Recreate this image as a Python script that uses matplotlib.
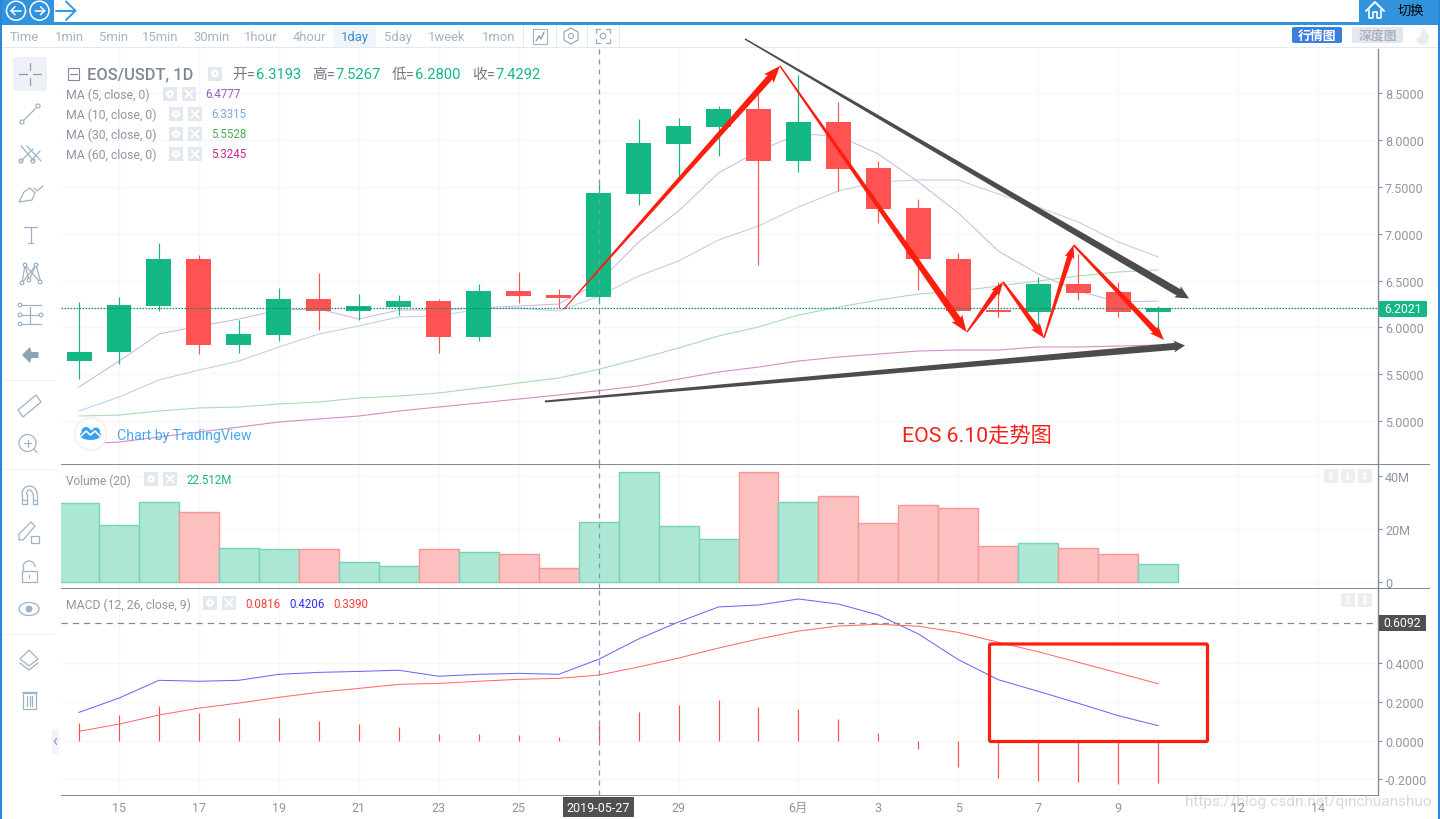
"""
EOS/USDT daily chart with volume and MACD panes, in the trading terminal frame
"""
import numpy as np
import matplotlib
matplotlib.use("Agg")
import matplotlib.pyplot as plt
from matplotlib.patches import Rectangle, FancyBboxPatch, Circle, Ellipse, Polygon

plt.rcParams['font.family'] = ['Roboto', 'Noto Sans CJK SC', 'DejaVu Sans']

W = 1440; H = 820

# price data, one row per day from May 14 to June 10
opens  = [5.64,5.74,6.23,6.73,5.81,5.92,6.30,6.175,6.217,6.28,5.90,6.39,6.345,6.3193,
          7.423,7.956,8.137,8.329,7.775,8.191,7.70,7.27,6.729,6.185,6.165,6.463,6.378,6.164]
highs  = [6.27,6.32,6.90,6.77,6.08,6.42,6.58,6.356,6.345,6.303,6.463,6.591,6.409,7.5267,
          8.223,8.233,8.361,8.489,8.692,8.404,7.775,7.369,6.793,6.484,6.537,6.783,6.484,6.228]
lows   = [5.45,5.61,6.18,5.72,5.73,5.86,5.97,6.08,6.132,5.727,5.855,6.26,6.207,6.28,
          7.305,7.583,7.828,6.665,7.657,7.455,7.113,6.399,6.17,6.11,6.015,6.292,6.11,5.98]
closes = [5.74,6.24,6.73,5.81,5.93,6.30,6.175,6.228,6.281,5.897,6.388,6.335,6.313,7.4292,
          7.967,8.148,8.329,7.775,8.191,7.689,7.263,6.729,6.175,6.164,6.463,6.367,6.164,6.207]

ma5  = [5.364,5.641,5.929,6.015,6.089,6.185,6.196,6.089,6.185,6.185,6.207,6.228,6.249,6.4777,
        6.911,7.241,7.647,7.881,8.063,8.041,7.849,7.551,7.220,6.815,6.569,6.388,6.271,6.281]
ma10 = [5.108,5.257,5.439,5.545,5.641,5.791,5.929,6.015,6.111,6.121,6.196,6.207,6.175,6.3315,
        6.548,6.708,6.932,7.081,7.284,7.455,7.551,7.572,7.572,7.423,7.284,7.124,6.911,6.751]
ma30 = [5.055,5.065,5.108,5.140,5.151,5.183,5.204,5.247,5.268,5.300,5.353,5.407,5.460,5.5528,
        5.663,5.780,5.908,6.004,6.132,6.217,6.292,6.356,6.388,6.441,6.495,6.548,6.591,6.612]
ma60 = [4.756,4.777,4.831,4.884,4.937,4.991,5.023,5.055,5.108,5.151,5.193,5.236,5.279,5.3245,
        5.375,5.449,5.524,5.577,5.641,5.684,5.716,5.748,5.759,5.759,5.791,5.791,5.801,5.812]

volumes = [29.8,21.4,30.2,26.4,12.7,12.3,12.3,7.4,5.85,12.3,11.2,10.4,5.1,22.5,
           41.7,21.2,16.4,41.7,30.3,32.6,22.3,29.1,28.0,13.6,14.7,12.7,10.4,6.7]

macd_line   = [0.146,0.22,0.312,0.307,0.312,0.343,0.353,0.358,0.364,0.333,0.343,0.348,0.343,0.4206,
               0.526,0.614,0.692,0.702,0.733,0.707,0.65,0.552,0.419,0.315,0.255,0.193,0.129,0.077]
signal_line = [0.048,0.085,0.132,0.168,0.194,0.224,0.25,0.27,0.291,0.296,0.307,0.317,0.322,0.339,
               0.381,0.427,0.479,0.526,0.567,0.593,0.602,0.592,0.56,0.509,0.46,0.405,0.35,0.294]
macd_hist   = [0.091,0.132,0.179,0.142,0.117,0.117,0.101,0.085,0.070,0.034,0.034,0.029,0.018,0.0816,
               0.148,0.184,0.21,0.174,0.163,0.111,0.039,-0.042,-0.137,-0.194,-0.21,-0.215,-0.225,-0.22]

# axis ticks
x_tick_pos    = [1,3,5,7,9,11,13,15,18,20,22,24,26,29,31]
x_tick_labels = ["15","17","19","21","23","25","2019-05-27","29","6月","3","5","7","9","12","14"]
price_ticks   = [5.0,5.5,6.0,6.5,7.0,7.5,8.0,8.5]
vol_ticks     = [0,20,40]
vol_labels    = ["0","20M","40M"]
macd_ticks    = [-0.2,0.0,0.2,0.4]
last_price    = 6.2021
cross_macd    = 0.6092
cross_day     = 13

UP = "#14b885"; DOWN = "#ff5252"; GRID = "#f5f7fa"; AXIS = "#818b99"; TICK = "#8e96a3"
ICON = "#9fb2c4"; BLUE = "#3193dc"; ARROW_RED = "#ff1e0e"; ARROW_DARK = "#4c4c4c"

fig = plt.figure(figsize=(W/100, H/100), dpi=100, facecolor="white")

def pane(y0, y1):
  return fig.add_axes([61/W, 1-y1/H, (1378-61)/W, (y1-y0)/H])

days = np.arange(len(opens))
colors = [UP if c >= o else DOWN for o, c in zip(opens, closes)]
XLIM = (-0.451, 32.50)

def style_pane(ax, ticks, labels, ylim):
  ax.set_xlim(*XLIM)
  ax.set_ylim(*ylim)
  ax.yaxis.tick_right()
  ax.set_yticks(ticks)
  ax.set_yticklabels(labels)
  ax.set_xticks(x_tick_pos)
  ax.tick_params(axis="y", length=3, width=0.8, color=AXIS, labelcolor=TICK, labelsize=9.0, pad=2)
  ax.tick_params(axis="x", length=0, labelbottom=False)
  ax.grid(True, color=GRID, lw=0.9)
  ax.set_axisbelow(True)
  for side in ["top", "left", "bottom"]:
    ax.spines[side].set_visible(False)
  ax.spines["right"].set_color(AXIS)
  ax.spines["right"].set_linewidth(1.0)
  ax.axvline(cross_day, color="#7d97b0", lw=0.9, dashes=(4, 4), zorder=6)

# price pane
ax = pane(50, 465)
style_pane(ax, price_ticks, ["%.4f" % t for t in price_ticks], (4.543, 8.969))
ax.plot(days, ma5,  color="#cdb0e4", lw=0.7, zorder=2)
ax.plot(days, ma10, color="#bdd2ea", lw=0.8, zorder=2)
ax.plot(days, ma30, color="#aedbb0", lw=0.8, zorder=2)
ax.plot(days, ma60, color="#d68dc9", lw=0.8, zorder=2)
ax.vlines(days, lows, highs, colors=colors, lw=0.85, zorder=3)
ax.bar(days, np.abs(np.array(closes)-np.array(opens)), bottom=np.minimum(opens, closes),
       width=0.625, color=colors, zorder=4)
ax.axhline(last_price, color="#1a8a6a", lw=0.9, ls=(0, (1.3, 1.1)), zorder=5)

# volume pane
ax2 = pane(465, 589)
style_pane(ax2, vol_ticks, vol_labels, (-2.4, 44.7))
ax2.bar(days, volumes, width=1.0, color=["#ade8d6" if c == UP else "#fdc0c0" for c in colors],
        edgecolor=["#76d3b5" if c == UP else "#fb9696" for c in colors], lw=1.0, zorder=2)

# macd pane
ax3 = pane(589, 796)
style_pane(ax3, macd_ticks, ["%.4f" % t for t in macd_ticks], (-0.282, 0.79))
ax3.vlines(days, 0, macd_hist, colors="#ff4d4d", lw=0.85, zorder=2)
ax3.plot(days, macd_line, color="#6a6af5", lw=0.75, zorder=3)
ax3.plot(days, signal_line, color="#ff6b6b", lw=0.75, zorder=3)
ax3.axhline(cross_macd, color="#7f8a99", lw=0.9, dashes=(5, 4), zorder=5)
ax3.tick_params(axis="x", labelbottom=True, labelcolor=TICK, labelsize=9.0, pad=4)
ax3.set_xticklabels(x_tick_labels)
for lab in ax3.get_xticklabels():
  if lab.get_text() == "2019-05-27":
    lab.set_color("white")
    lab.set_fontsize(9.0)
    lab.set_zorder(10)
    lab.set_bbox(dict(facecolor="#505050", edgecolor="none", pad=2.6))

# frame, toolbars and drawn marks, all in screen pixels
ov = fig.add_axes([0, 0, 1, 1], zorder=20)
ov.set_xlim(0, W); ov.set_ylim(H, 0)
ov.axis("off")
ov.patch.set_alpha(0)

def rect(x0, y0, x1, y1, color, z=1, **kw):
  ov.add_patch(Rectangle((x0, y0), x1-x0, y1-y0, facecolor=color, edgecolor="none", zorder=z, **kw))

def stroke(xs, ys, color=ICON, lw=0.9, z=3):
  ov.plot(xs, ys, color=color, lw=lw, zorder=z, solid_capstyle="round")

def ring(x, y, r, color=ICON, lw=0.9, face="none", z=3):
  ov.add_patch(Circle((x, y), r, facecolor=face, edgecolor=color, lw=lw, zorder=z))

def label(x, y, s, color=TICK, size=8.5, ha="left", z=5, **kw):
  ov.text(x, y, s, color=color, fontsize=size, ha=ha, va="center", zorder=z, **kw)

def taper_arrow(p0, p1, w0, w1, head_w, head_len, color, z=8):
  """arrow that widens from tail to neck, as the drawing tool makes them"""
  p0 = np.array(p0, float); p1 = np.array(p1, float)
  u = (p1-p0)/np.hypot(*(p1-p0))
  n = np.array([-u[1], u[0]])
  neck = p1-u*head_len
  barb = p1-u*head_len*1.12
  pts = [p0+n*w0/2, neck+n*w1/2, barb+n*head_w/2, p1, barb-n*head_w/2, neck-n*w1/2, p0-n*w0/2]
  ov.add_patch(Polygon(pts, closed=True, facecolor=color, edgecolor="none", zorder=z))

def small_box(x, y, kind):
  rect(x, y-7, x+14, y+7, "#e3e8ee", z=2)
  if kind == "x":
    stroke([x+3.5, x+10.5], [y-3.5, y+3.5], "white", 1.4, 3)
    stroke([x+3.5, x+10.5], [y+3.5, y-3.5], "white", 1.4, 3)
  else:
    ring(x+7, y, 2.6, "white", 1.8)

# top bar
rect(0, 0, W, 25.5, "white")
rect(0, 23.3, W, 25.7, BLUE, z=2)
rect(0, 0, 54, 24, BLUE, z=2)
rect(1359, 0, W, 24, BLUE, z=2)
rect(0, 0, 2, H, "#2a87d8", z=2)
rect(1438, 0, W, H, "#2a87d8", z=2)
for cx, sgn in [(16, -1), (39.5, 1)]:
  ring(cx, 11.7, 9.5, "white", 1.1)
  stroke([cx-5, cx+5], [11.7, 11.7], "white", 1.1, 4)
  stroke([cx+sgn*1, cx+sgn*5, cx+sgn*1], [7.7, 11.7, 15.7], "white", 1.1, 4)
stroke([56, 75], [11.7, 11.7], "#2f9be8", 1.4)
stroke([66, 75.5, 66], [2.5, 11.7, 21], "#2f9be8", 1.4)
stroke([1366, 1375, 1384], [12, 3, 12], "white", 1.4, 4)
stroke([1369, 1369, 1373, 1373, 1377, 1377, 1381, 1381], [11, 19, 19, 13, 13, 19, 19, 11], "white", 1.2, 4)
label(1411, 11, "切换", "black", 9.5, "center")

# period buttons
periods = ["Time","1min","5min","15min","30min","1hour","4hour","1day","5day","1week","1mon"]
period_x = [24.5,69,113,160,211,261,309,354.5,398,447,499]
rect(333, 26, 376, 48, "#f0f4fb")
for s, x in zip(periods, period_x):
  label(x, 37.5, s, "#3f8ad8" if s == "1day" else "#a5b3bf", 9.4, "center")
rect(2, 48, 1438, 49, "#e1e9f6")
for x in [523, 556, 587, 619]:
  rect(x, 26, x+1, 48, "#e6ebf2")
ov.add_patch(Rectangle((533, 30), 14, 15, facecolor="none", edgecolor=ICON, lw=0.8))
stroke([536, 539, 541, 544], [42, 37, 40, 33], "#8298aa", 0.9)
ov.add_patch(Polygon([(571,29),(578,33),(578,41),(571,45),(564,41),(564,33)], closed=True,
                     facecolor="none", edgecolor=ICON, lw=1.0))
ring(571, 37, 2.6)
for (x0, x1), (y0, y1) in [((596, 610), (30, 44))]:
  stroke([x0, x0, x0+4], [y0+4, y0, y0], lw=1.0); stroke([x1-4, x1, x1], [y0, y0, y0+4], lw=1.0)
  stroke([x0, x0, x0+4], [y1-4, y1, y1], lw=1.0); stroke([x1-4, x1, x1], [y1, y1, y1-4], lw=1.0)
ring(603, 37, 2.8)
ov.add_patch(FancyBboxPatch((1292, 28), 50, 16, boxstyle="round,pad=0,rounding_size=2", facecolor="#3a7fe0", edgecolor="none"))
ov.add_patch(FancyBboxPatch((1352, 28), 51, 16, boxstyle="round,pad=0,rounding_size=2", facecolor="#e3e8ef", edgecolor="none"))
label(1317, 36.5, "行情图", "white", 9.3, "center", weight="bold")
label(1377.5, 36.5, "深度图", "#a9b4bd", 9.3, "center", weight="bold")
ov.add_patch(Polygon([(1423,28),(1429,37),(1428,44),(1423,46),(1417,44),(1416,38),(1419,39)], closed=True,
                     facecolor="#e9edf1", edgecolor="none"))

# left toolbar icons
ov.add_patch(FancyBboxPatch((13, 58), 34, 34, boxstyle="round,pad=0,rounding_size=3", facecolor="#eef1f5", edgecolor="none"))
for xs, ys in [([19,27],[75,75]), ([33,41],[75,75]), ([30,30],[64,71]), ([30,30],[79,86])]:
  stroke(xs, ys, "#8d9dac")
stroke([24, 36], [121, 109]); ring(22, 123, 2); ring(38, 107, 2)
stroke([21, 34], [147, 162]); stroke([27, 41], [147, 162]); stroke([21, 33], [162, 150]); stroke([31, 40], [162, 152])
ring(21, 162, 2); ring(33, 162, 2)
ov.add_patch(Polygon([(19,203),(24,193),(30,189),(35,194),(32,201)], closed=True, facecolor="none", edgecolor=ICON, lw=0.9))
stroke([34, 37, 43], [189, 192, 187])
stroke([24, 37], [228, 228]); stroke([30.5, 30.5], [228, 244]); stroke([28, 33], [244, 244])
stroke([22, 25, 29, 36, 41], [284, 266, 281, 266, 284]); stroke([22, 36], [284, 266]); stroke([25, 40], [266, 283])
for px, py in [(22,284),(25,266),(29,281),(36,266),(40,283)]:
  ring(px, py, 1.8, face="white")
for yy in [306, 316, 325]:
  stroke([21, 41], [yy, yy])
  ring(20, yy, 1.8, face="white")
ring(41, 316, 1.8, face="white")
stroke([30, 30], [308, 324])
ov.add_patch(Polygon([(22,356),(30,348),(31.5,353),(38.5,353),(38.5,359),(31.5,359),(30,364)], closed=True,
                     facecolor="#8ba3b5", edgecolor="none"))
rect(4, 381, 54, 382, "#eef1f5")
ov.add_patch(Polygon([(18,411),(36,396),(41,403),(23,418)], closed=True, facecolor="none", edgecolor=ICON, lw=0.9))
ring(27.5, 444, 8.5); stroke([24, 31], [444, 444]); stroke([27.5, 27.5], [440.5, 447.5]); stroke([34, 37], [450, 453.5])
rect(4, 470, 54, 471, "#eef1f5")
stroke([22, 22], [505, 495]); stroke([37, 37], [505, 495])
t = np.linspace(np.pi, 2*np.pi, 20)
stroke(29.5+7.5*np.cos(t), 495+8*np.sin(t)); stroke(29.5+3*np.cos(t), 495+4*np.sin(t))
stroke([26.5, 26.5], [495, 505]); stroke([32.5, 32.5], [495, 505]); stroke([22, 26.5], [505, 505]); stroke([32.5, 37], [505, 505])
stroke([22, 26.5], [501, 501]); stroke([32.5, 37], [501, 501])
ov.add_patch(Polygon([(19,541),(19,535),(31,523),(35,527),(23,541)], closed=True, facecolor="none", edgecolor=ICON, lw=0.9))
ov.add_patch(Rectangle((31, 537), 8, 6.5, facecolor="white", edgecolor=ICON, lw=0.9))
ov.add_patch(Rectangle((21.5, 572), 15, 11, facecolor="none", edgecolor=ICON, lw=0.9))
stroke(29+6*np.cos(t), 568+6*np.sin(t)); stroke([23, 23], [568, 572]); stroke([29, 29], [576, 579])
ov.add_patch(Ellipse((29, 610), 20, 13, facecolor="none", edgecolor=ICON, lw=0.9)); ring(29, 610, 2.8, face=ICON)
rect(4, 635, 54, 636, "#eef1f5")
ov.add_patch(Polygon([(29,651),(38,660),(29,667),(20,660)], closed=True, facecolor="none", edgecolor=ICON, lw=0.9))
stroke([20, 29, 38], [664, 671, 664])
ov.add_patch(Rectangle((23, 694), 13, 15.5, facecolor="none", edgecolor=ICON, lw=0.9))
stroke([22, 37], [692.5, 692.5]); stroke([27, 27], [697, 707]); stroke([29.5, 29.5], [697, 707]); stroke([32, 32], [697, 707])
ov.add_patch(FancyBboxPatch((52, 730), 7, 25, boxstyle="round,pad=0,rounding_size=2", facecolor="#f1f4f8", edgecolor="none"))
stroke([56.5, 54.5, 56.5], [739.5, 742.5, 745.5], "#8d9dac")

# pane separators
rect(61, 465, 1430, 466, AXIS, z=2)
rect(61, 589, 1430, 590, AXIS, z=2)
rect(61, 796, 1379, 797, AXIS, z=2)

# value tags on the scale
ov.add_patch(FancyBboxPatch((1379, 302), 48, 16, boxstyle="round,pad=0,rounding_size=1", facecolor=UP, edgecolor="none", zorder=6))
label(1403, 310, "%.4f" % last_price, "white", 8.8, "center", z=7)
rect(1379, 616, 1426, 632, "#505050", z=6)
label(1402.5, 624, "%.4f" % cross_macd, "white", 8.8, "center", z=7)

# main legend
rect(67, 69, 79, 81, "white"); ov.add_patch(Rectangle((67.5, 69), 11.5, 12, facecolor="none", edgecolor="#808a96", lw=0.8))
stroke([70, 76.5], [75, 75], "#808a96")
label(87, 75, "EOS/USDT, 1D", "#7f8893", 11.8, weight="medium")
small_box(208, 74.5, "gear")
for x, s, col in [(232,"开=","#6f7883"),(256,"6.3193",UP),(312,"高=","#6f7883"),(336,"7.5267",UP),
                  (392,"低=","#6f7883"),(415,"6.2800",UP),(472,"收=","#6f7883"),(495,"7.4292",UP)]:
  label(x, 75, s, col, 10.6)
ma_rows = [(95,"MA (5, close, 0)",163,182,205,"6.4777","#9c59c6"),
           (115,"MA (10, close, 0)",169,188,211,"6.3315","#7da7d9"),
           (135,"MA (30, close, 0)",169,188,211,"5.5528","#4caf50"),
           (155,"MA (60, close, 0)",169,188,211,"5.3245","#c9259b")]
for y, s, g, c, vx, v, col in ma_rows:
  label(66, y, s, "#8e96a3", 8.8)
  small_box(g, y, "gear"); small_box(c, y, "x")
  label(vx, y, v, col, 8.3)

# pane legends
label(66, 481, "Volume (20)", "#8e96a3", 8.6)
small_box(144, 480, "gear"); small_box(163, 480, "x")
label(186, 481, "22.512M", UP, 8.3)
label(66, 605, "MACD (12, 26, close, 9)", "#8e96a3", 8.7)
small_box(203, 604, "gear"); small_box(222, 604, "x")
label(245, 605, "0.0816", "#ff3b3b", 8.3)
label(289, 605, "0.4206", "#2f2fff", 8.3)
label(333, 605, "0.3390", "#ff3b3b", 8.3)

# pane buttons, top right
for x, kind in [(1324,"u"),(1341,"d"),(1358,"b")]:
  rect(x, 470, x+14, 484, "#eeeeee", z=2)
  label(x+7, 477, {"u":"↑","d":"↓","b":"↕"}[kind], "white", 8, "center", family="DejaVu Sans", weight="bold")
for x, kind in [(1341,"u"),(1358,"b")]:
  rect(x, 594, x+14, 608, "#eeeeee", z=2)
  label(x+7, 601, {"u":"↑","b":"↕"}[kind], "white", 8, "center", family="DejaVu Sans", weight="bold")

# chart credit
ring(90.5, 435, 16, "#eceff2", 0.9, "white", z=4)
ov.add_patch(Ellipse((90.5, 436), 21, 10, facecolor="#3aa0ee", edgecolor="none", zorder=5))
ring(86, 432.5, 4.5, "#3aa0ee", 0, "#3aa0ee", z=5); ring(96, 432.5, 4, "#3aa0ee", 0, "#3aa0ee", z=5)
stroke([81, 86, 90.5, 95, 100], [437, 432, 436, 432, 437], "white", 1.2, 6)
label(117, 436.5, "Chart by TradingView", "#48aaf0", 10.2)

# hand drawn arrows and notes
taper_arrow((564, 310), (780, 67), 1.0, 6.5, 13, 15, ARROW_RED)
taper_arrow((780, 67), (966.5, 333), 1.5, 7.0, 13, 15, ARROW_RED)
taper_arrow((967, 333), (1003, 283), 1.5, 5.5, 10, 12, ARROW_RED)
taper_arrow((1003, 283), (1044, 339), 2.0, 5.5, 11, 13, ARROW_RED)
taper_arrow((1044, 339), (1073.5, 246), 1.5, 5.5, 10, 12, ARROW_RED)
taper_arrow((1073.5, 246), (1164, 341), 2.0, 6.0, 11, 13, ARROW_RED)
taper_arrow((745, 40), (1189, 299.5), 1.5, 7.5, 13, 12, ARROW_DARK)
taper_arrow((545, 402.5), (1185, 346.5), 2.0, 7.0, 12, 10, ARROW_DARK)
ov.add_patch(FancyBboxPatch((989.5, 645), 218, 97.5, boxstyle="round,pad=0,rounding_size=1.5",
                            facecolor="none", edgecolor=ARROW_RED, lw=2.3, zorder=8))
label(902, 436, "EOS 6.10走势图", "#f4211a", 15.3)
label(1432, 802, "https://blog.csdn.net/qinchuanshuo", "#9aa0a6", 11.1, "right", z=9, alpha=0.4)

fig.savefig("out.png", dpi=100, facecolor="white")
